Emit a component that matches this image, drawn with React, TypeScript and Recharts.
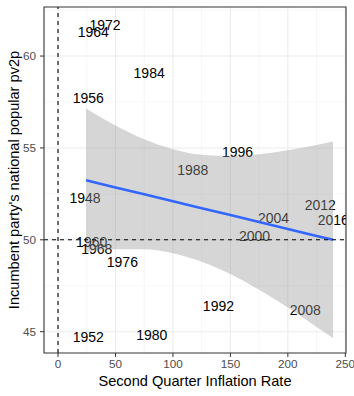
import React from "react";
import {
  ComposedChart,
  Scatter,
  Area,
  Line,
  XAxis,
  YAxis,
  ReferenceLine,
  ReferenceArea,
  Label,
} from "recharts";

// election years with Q2 inflation rate and incumbent vote share
const YEARS = [
  "1948", "1952", "1956", "1960", "1964", "1968", "1972", "1976", "1980",
  "1984", "1988", "1992", "1996", "2000", "2004", "2008", "2012", "2016",
];
const INFLATION = [
  23.5, 26.4, 26.4, 29.3, 30.7, 33.7, 40.9, 56, 81.6,
  79.3, 117.3, 139.6, 156.2, 171, 187.5, 215.2, 228.2, 239.5,
];
const PV2P = [
  52.3, 44.7, 57.7, 49.9, 61.3, 49.5, 61.7, 48.8, 44.8,
  59.1, 53.8, 46.4, 54.8, 50.2, 51.2, 46.2, 51.9, 51.1,
];

// lm smooth
const FIT_X = [24.4, 50, 75, 100, 125, 150, 175, 200, 225, 239.3];
const FIT_Y = [53.24, 52.85, 52.48, 52.1, 51.72, 51.35, 50.97, 50.59, 50.21, 50.0];
const FIT_LO = [49.33, 49.48, 49.49, 49.27, 48.81, 48.14, 47.28, 46.31, 45.26, 44.65];
const FIT_HI = [57.15, 56.22, 55.47, 54.93, 54.63, 54.56, 54.66, 54.87, 55.16, 55.35];

const X_TICKS = [0, 50, 100, 150, 200, 250];
const Y_TICKS = [45, 50, 55, 60];
const X_MINOR = [25, 75, 125, 175, 225];
const Y_MINOR = [47.5, 52.5, 57.5, 62.5];

const X_DOMAIN: [number, number] = [-12.2, 250.6];
const Y_DOMAIN: [number, number] = [43.84, 62.67];

const FONT = "'Liberation Sans', Arial, sans-serif";

const points = YEARS.map((year, i) => ({ year, x: INFLATION[i], y: PV2P[i] }));
const band = FIT_X.map((x, i) => ({ x, fit: FIT_Y[i], lo: FIT_LO[i], hi: FIT_HI[i] }));

// recharts 3 layers marks by zIndex; keep ggplot's drawing order
const z = (n: number) => ({ zIndex: n } as any);

const YearLabel = (props: any) => (
  <text
    x={props.cx}
    y={props.cy}
    textAnchor="middle"
    dominantBaseline="central"
    fontSize={14}
    fontFamily={FONT}
    fill="#000"
  >
    {props.payload.year}
  </text>
);

export default function App() {
  return (
    <div style={{ position: "absolute", left: 0, top: 0, width: 354, height: 396, background: "#fff" }}>
      <ComposedChart
        width={354}
        height={396}
        data={band}
        margin={{ top: 7, right: 8, left: 0, bottom: 0 }}
      >
        <XAxis
          dataKey="x"
          type="number"
          domain={X_DOMAIN}
          allowDataOverflow
          ticks={X_TICKS}
          height={43}
          tickSize={4}
          tickMargin={3}
          axisLine={false}
          tickLine={{ stroke: "#333333" }}
          tick={{ fill: "#4D4D4D", fontSize: 11.7, fontFamily: FONT }}
        >
          <Label
            content={() => (
              <text x={195} y={386} textAnchor="middle" fontSize={14.6} fontFamily={FONT} fill="#000">
                Second Quarter Inflation Rate
              </text>
            )}
          />
        </XAxis>
        <YAxis
          type="number"
          domain={Y_DOMAIN}
          allowDataOverflow
          ticks={Y_TICKS}
          width={44}
          tickSize={4}
          tickMargin={4}
          axisLine={false}
          tickLine={{ stroke: "#333333" }}
          tick={{ fill: "#4D4D4D", fontSize: 11.7, fontFamily: FONT }}
        >
          <Label
            content={() => (
              <text
                x={14}
                y={180}
                transform="rotate(-90 14 180)"
                textAnchor="middle"
                dominantBaseline="central"
                fontSize={14.6}
                fontFamily={FONT}
                fill="#000"
              >
                Incumbent party's national popular pv2p
              </text>
            )}
          />
        </YAxis>

        {X_MINOR.map((v) => (
          <ReferenceLine key={"xm" + v} x={v} stroke="#F2F2F2" strokeWidth={0.6} {...z(-20)} />
        ))}
        {Y_MINOR.map((v) => (
          <ReferenceLine key={"ym" + v} y={v} stroke="#F2F2F2" strokeWidth={0.6} {...z(-20)} />
        ))}
        {X_TICKS.map((v) => (
          <ReferenceLine key={"xM" + v} x={v} stroke="#EBEBEB" strokeWidth={1.1} {...z(-10)} />
        ))}
        {Y_TICKS.map((v) => (
          <ReferenceLine key={"yM" + v} y={v} stroke="#EBEBEB" strokeWidth={1.1} {...z(-10)} />
        ))}

        <Scatter data={points} dataKey="y" shape={YearLabel} isAnimationActive={false} {...z(50)} />

        <Area
          type="monotone"
          dataKey={(d: any) => [d.lo, d.hi]}
          stroke="none"
          fill="#999999"
          fillOpacity={0.4}
          isAnimationActive={false}
          {...z(100)}
        />
        <Line
          type="linear"
          dataKey="fit"
          stroke="#3366FF"
          strokeWidth={2.6}
          dot={false}
          activeDot={false}
          isAnimationActive={false}
          {...z(200)}
        />

        <ReferenceLine x={0} stroke="#000" strokeWidth={1.1} strokeDasharray="4 4" {...z(300)} />
        <ReferenceLine y={50} stroke="#000" strokeWidth={1.1} strokeDasharray="4 4" {...z(300)} />

        <ReferenceArea
          x1={X_DOMAIN[0]}
          x2={X_DOMAIN[1]}
          y1={Y_DOMAIN[0]}
          y2={Y_DOMAIN[1]}
          fill="none"
          stroke="#333333"
          strokeWidth={1.1}
          {...z(400)}
        />
      </ComposedChart>
    </div>
  );
}
